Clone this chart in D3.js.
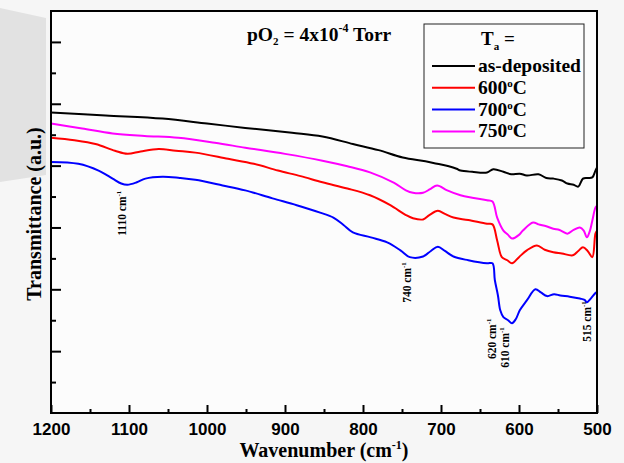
<!DOCTYPE html>
<html>
<head>
<meta charset="utf-8">
<script src="https://cdn.jsdelivr.net/npm/d3@7"></script>
<style>
  body { margin: 0; background: #f6f6f6; }
  svg { display: block; }
  .tick text { font-family: "Liberation Sans", Arial, sans-serif; font-weight: bold; font-size: 17px; fill: #000; }
  .serif { font-family: "Liberation Serif", "Times New Roman", serif; font-weight: bold; fill: #000; }
</style>
</head>
<body>
<div class="graph"></div>
<script>
// spectra: [wavenumber, transmittance a.u.]
var asDeposited = [[1200,4.86],[1130,4.81],[1057,4.76],[1000,4.68],[951,4.61],[891,4.53],[852,4.47],[813,4.35],
  [780,4.25],[749,4.13],[720,4.07],[705,4.03],[690,3.99],[680,3.95],[675,3.92],[660,3.90],[641,3.89],[633,3.94],
  [620,3.90],[610,3.86],[599,3.87],[590,3.84],[575,3.86],[565,3.80],[556,3.79],[545,3.76],[538,3.71],[530,3.69],
  [524,3.66],[518,3.79],[512,3.80],[506,3.81],[502,3.92],[500,3.97]];

var t600 = [[1200,4.45],[1170,4.41],[1143,4.35],[1118,4.24],[1102,4.19],[1085,4.23],[1062,4.27],[1040,4.24],
  [1015,4.21],[973,4.11],[940,4.03],[909,3.92],[880,3.83],[852,3.73],[820,3.63],[791,3.52],[765,3.36],[745,3.20],
  [736,3.15],[723,3.13],[715,3.20],[704,3.27],[695,3.22],[684,3.16],[665,3.12],[641,3.06],[634,3.05],[628,2.79],
  [622,2.52],[615,2.47],[609,2.42],[600,2.52],[590,2.63],[577,2.71],[567,2.64],[556,2.60],[545,2.58],[531,2.55],
  [524,2.62],[518,2.68],[512,2.62],[506,2.52],[502,2.90],[500,2.95]];

var t700 = [[1200,4.06],[1165,4.03],[1139,3.92],[1121,3.79],[1110,3.71],[1102,3.69],[1090,3.73],[1079,3.79],
  [1057,3.82],[1035,3.80],[1015,3.77],[980,3.68],[951,3.60],[916,3.47],[885,3.36],[855,3.24],[838,3.16],[825,3.04],
  [813,2.92],[790,2.84],[769,2.76],[752,2.63],[740,2.52],[723,2.53],[713,2.62],[704,2.69],[695,2.62],[684,2.53],
  [665,2.47],[641,2.42],[634,2.42],[631,2.15],[627,1.90],[624,1.66],[620,1.55],[614,1.50],[609,1.45],[604,1.52],
  [599,1.66],[590,1.82],[579,2.00],[572,1.95],[564,1.89],[555,1.92],[547,1.90],[535,1.88],[522,1.85],[516,1.83],
  [513,1.79],[508,1.85],[502,1.94],[500,1.96]];

var t750 = [[1200,4.68],[1160,4.60],[1121,4.52],[1080,4.48],[1037,4.45],[990,4.37],[951,4.29],[900,4.19],
  [852,4.08],[820,3.99],[791,3.89],[760,3.72],[745,3.60],[736,3.56],[723,3.56],[714,3.62],[705,3.68],[692,3.60],
  [675,3.52],[660,3.48],[641,3.44],[634,3.42],[628,3.16],[620,2.95],[614,2.88],[609,2.82],[600,2.88],[595,2.95],
  [582,3.08],[575,3.05],[565,3.02],[556,2.98],[548,2.96],[538,2.90],[530,2.96],[522,3.00],[517,2.95],[513,2.84],
  [509,2.95],[506,3.11],[502,3.32],[500,3.35]];

var seriesNames = ['as-deposited', '600', '700', '750'];
var seriesColors = ['#000000', '#ff0000', '#0000ff', '#ff00ff'];
var seriesData = [asDeposited, t600, t700, t750];

var xMajor = [1200, 1100, 1000, 900, 800, 700, 600, 500];
var xMinor = [1150, 1050, 950, 850, 750, 650, 550];
var yMajor = [1, 2, 3, 4, 5, 6];
var yMinor = [0.5, 1.5, 2.5, 3.5, 4.5, 5.5];

// peak labels: text, wavenumber position, height of label centre
var peaks = [['1110', 1109, 3.23], ['740', 743, 2.11], ['620', 635, 1.20], ['610', 618, 1.06], ['515', 513, 1.48]];

var width = 624, height = 463;
var margin = {left: 51, right: 27, top: 11, bottom: 50};

var svg = d3.select('.graph').append('svg')
    .attr('width', width)
    .attr('height', height);

// faint watermark at the left edge
svg.append('path')
    .attr('d', 'M0,8 L46,18 L46,175 L0,182 Z')
    .style('fill', '#e2e2e2');

var x = d3.scaleLinear().domain([1200, 500]).range([margin.left, width - margin.right]);
var y = d3.scaleLinear().domain([0, 6.5]).range([height - margin.bottom, margin.top]);

svg.append('rect')
    .attr('x', x(1200)).attr('y', y(6.5))
    .attr('width', x(500) - x(1200)).attr('height', y(0) - y(6.5))
    .style('fill', '#fcfcfc');

var line = d3.line()
    .x(function (d) { return x(d[0]); })
    .y(function (d) { return y(d[1]); })
    .curve(d3.curveCatmullRom.alpha(0.5));

svg.selectAll('path.spec')
  .data(seriesData)
  .enter().append('path')
    .attr('class', 'spec')
    .attr('d', line)
    .style('fill', 'none')
    .style('stroke', function (d, i) { return seriesColors[i]; })
    .style('stroke-width', 2);

// axes, ticks pointing inward
svg.append('g')
    .attr('transform', 'translate(0,' + y(0) + ')')
    .call(d3.axisBottom(x).tickValues(xMajor).tickFormat(d3.format('d'))
      .tickSizeInner(-8).tickSizeOuter(0).tickPadding(10));
svg.append('g')
    .attr('transform', 'translate(0,' + y(0) + ')')
    .call(d3.axisBottom(x).tickValues(xMinor).tickSizeInner(-4).tickSizeOuter(0).tickFormat(''));
svg.append('g')
    .attr('transform', 'translate(' + x(1200) + ',0)')
    .call(d3.axisLeft(y).tickValues(yMajor).tickSizeInner(-10).tickSizeOuter(0).tickFormat(''));
svg.append('g')
    .attr('transform', 'translate(' + x(1200) + ',0)')
    .call(d3.axisLeft(y).tickValues(yMinor).tickSizeInner(-5).tickSizeOuter(0).tickFormat(''));
svg.selectAll('.domain').remove();
svg.selectAll('.tick line').style('stroke', '#000').style('stroke-width', 2);

svg.append('rect')
    .attr('x', x(1200)).attr('y', y(6.5))
    .attr('width', x(500) - x(1200)).attr('height', y(0) - y(6.5))
    .style('fill', 'none').style('stroke', '#000').style('stroke-width', 2);

// axis titles
var xt = svg.append('text').attr('class', 'serif')
    .attr('x', (x(1200) + x(500)) / 2).attr('y', 457)
    .attr('text-anchor', 'middle').style('font-size', '20px');
xt.append('tspan').text('Wavenumber (cm');
xt.append('tspan').attr('dy', -8).style('font-size', '12px').text('-1');
xt.append('tspan').attr('dy', 8).text(')');

svg.append('text').attr('class', 'serif')
    .attr('transform', 'translate(41,' + ((y(0) + y(6.5)) / 2 + 2) + ') rotate(-90)')
    .attr('text-anchor', 'middle').style('font-size', '20px')
    .text('Transmittance (a.u.)');

// pressure note
var pt = svg.append('text').attr('class', 'serif')
    .attr('x', 247).attr('y', 41).style('font-size', '19.5px');
pt.append('tspan').text('pO');
pt.append('tspan').attr('dy', 4).style('font-size', '11px').text('2');
pt.append('tspan').attr('dy', -4).text(' = 4x10');
pt.append('tspan').attr('dy', -9).style('font-size', '12px').text('-4');
pt.append('tspan').attr('dy', 9).text(' Torr');

// legend
var lg = svg.append('g');
lg.append('rect')
    .attr('x', 424).attr('y', 24).attr('width', 160).attr('height', 124)
    .style('fill', '#fcfcfc').style('stroke', '#222').style('stroke-width', 1);
var lt = lg.append('text').attr('class', 'serif')
    .attr('x', 481).attr('y', 45).style('font-size', '19px');
lt.append('tspan').text('T');
lt.append('tspan').attr('dy', 5).style('font-size', '11px').text('a');
lt.append('tspan').attr('dy', -5).text(' =');

seriesNames.forEach(function (name, i) {
  var yy = 66 + i * 21.8;
  lg.append('line')
      .attr('x1', 432).attr('x2', 475).attr('y1', yy).attr('y2', yy)
      .style('stroke', seriesColors[i]).style('stroke-width', 2);
  var t = lg.append('text').attr('class', 'serif')
      .attr('x', 478).attr('y', yy + 6).style('font-size', '19.5px');
  if (i === 0) {
    t.text(name);
  } else {
    t.append('tspan').text(name);
    t.append('tspan').attr('dy', -7).style('font-size', '11px').text('o');
    t.append('tspan').attr('dy', 7).text('C');
  }
});

// peak annotations, rotated
peaks.forEach(function (p) {
  var t = svg.append('text').attr('class', 'serif')
      .attr('transform', 'translate(' + (x(p[1]) + 4) + ',' + y(p[2]) + ') rotate(-90)')
      .attr('text-anchor', 'middle').style('font-size', '11.5px');
  t.append('tspan').text(p[0] + ' cm');
  t.append('tspan').attr('dy', -5).style('font-size', '7px').text('-1');
});
</script>
</body>
</html>
